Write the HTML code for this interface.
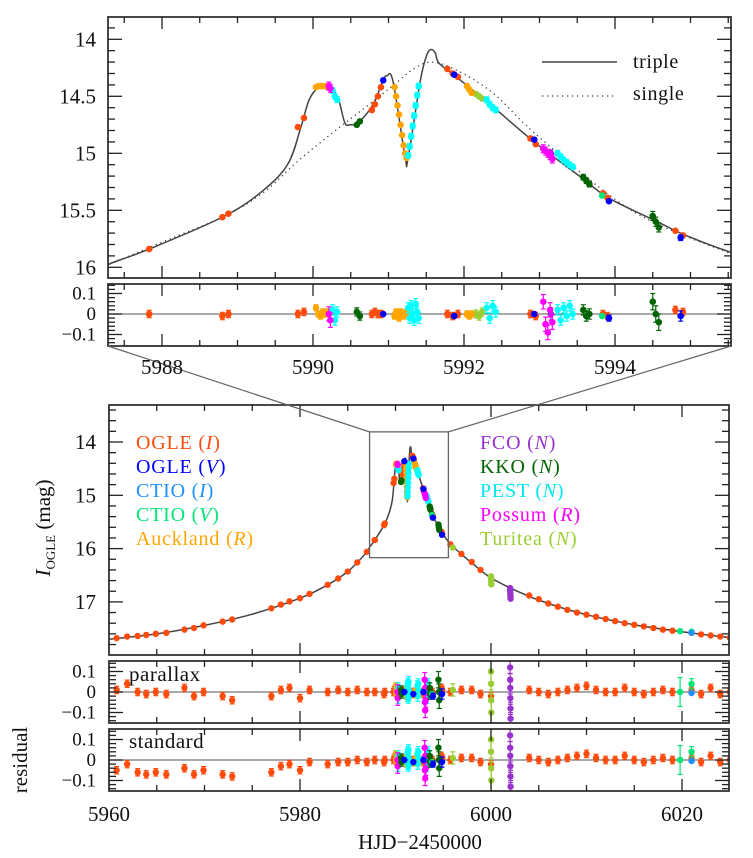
<!DOCTYPE html>
<html><head><meta charset="utf-8">
<style>
html,body{margin:0;padding:0;background:#fff;}
svg{display:block;font-family:"Liberation Serif",serif;}
</style></head>
<body>
<svg id="chart" width="753" height="858" viewBox="0 0 753 858" xmlns="http://www.w3.org/2000/svg"></svg>
<script>
// ---------- model curves ----------
const tripleT = [5960,5965,5970,5975,5980,5983,5985,5986,5987,5987.30,5987.83,5988.83,5989.35,5989.67,5989.84,5989.95,5990.08,5990.22,5990.33,5990.42,5990.49,5990.60,5990.79,5990.93,5990.98,5991.06,5991.22,5991.26,5991.42,5991.50,5991.56,5991.62,5991.67,5991.90,5992.38,5992.93,5993.59,5993.91,5994.56,5994.94,5995.54,5996,5997,5998,6000,6003,6006,6010,6015,6020,6025];
const tripleM = [17.70,17.60,17.44,17.23,16.93,16.67,16.43,16.26,16.06,15.97,15.84,15.55,15.32,15.09,14.77,14.53,14.42,14.42,14.51,14.73,14.75,14.73,14.58,14.36,14.32,14.37,15.03,15.04,14.37,14.15,14.09,14.12,14.21,14.33,14.59,14.90,15.23,15.39,15.60,15.72,15.87,15.96,16.12,16.27,16.55,16.82,17.03,17.24,17.43,17.56,17.67];
const singleT = [5987.0,5988.0,5988.83,5989.35,5989.78,5990.22,5990.65,5991.09,5991.31,5991.56,5991.90,5992.38,5992.93,5993.91,5994.56,5995.54,5996.0];
const singleM = [16.06,15.78,15.55,15.34,15.08,14.84,14.62,14.39,14.27,14.20,14.27,14.47,14.82,15.36,15.62,15.88,15.97];

// ---------- data ----------
const ogleIT = [5960.8,5961.9,5963.0,5963.9,5964.9,5966.0,5967.9,5968.9,5969.9,5971.9,5972.9,5977.0,5978.0,5978.9,5980.0,5981.0,5982.9,5984.0,5985.0,5986.0,5987.0,
 5987.83,5988.80,5988.88,5989.80,5989.88,5990.78,5990.82,5990.86,5990.90,5991.78,5991.85,5991.92,5992.88,5992.95,5993.84,5993.90,5994.80,5994.90,
 5995.75,5996.9,5997.98,5998.9,6000.0,6004,6005,6006,6007,6008,6009,6010,6011,6012,6013,6014,6015,6016,6017,6018,6019,6021,6022,6023,6024,6025];
const ogleIM = [17.68,17.65,17.64,17.62,17.60,17.58,17.52,17.49,17.44,17.37,17.33,17.12,17.05,16.99,16.93,16.85,16.68,16.56,16.43,16.26,16.06,
 15.84,15.56,15.53,14.77,14.69,14.62,14.57,14.50,14.42,14.26,14.30,14.33,14.87,14.92,15.35,15.39,15.68,15.72,
 15.92,16.10,16.25,16.40,16.55,16.88,16.95,17.03,17.09,17.15,17.20,17.24,17.28,17.32,17.36,17.40,17.43,17.46,17.49,17.52,17.54,17.58,17.61,17.63,17.65,17.67];
const ogleIResPar = [0.01,0.04,0.00,-0.01,0.00,-0.01,0.02,-0.02,0.00,-0.02,-0.04,-0.02,0.01,0.02,-0.03,0.01,0.00,0.01,0.00,0.01,0.00,
 0.00,-0.01,0.00,0.00,0.01,0.00,0.01,0.00,0.00,0.00,-0.01,0.00,0.00,-0.01,0.00,-0.01,0.02,0.01,
 0.00,0.01,0.01,-0.01,-0.02,0.01,0.00,-0.01,0.00,0.01,0.02,0.03,0.01,0.00,0.00,0.02,0.00,-0.01,0.00,0.01,0.00,0.01,-0.01,0.02,-0.01,0.00];
const ogleIResStd = [-0.05,-0.02,-0.06,-0.07,-0.06,-0.07,-0.04,-0.07,-0.05,-0.07,-0.08,-0.06,-0.03,-0.02,-0.05,-0.01,-0.02,-0.01,-0.01,0.00,-0.01,
 0.00,-0.01,0.00,0.00,0.01,0.00,0.01,0.00,0.00,0.00,-0.01,0.00,0.00,-0.01,0.00,-0.01,0.02,0.01,
 0.00,0.01,0.01,-0.01,-0.02,0.01,0.00,-0.01,0.00,0.01,0.02,0.03,0.01,0.00,0.00,0.02,0.00,-0.01,0.00,0.01,0.00,0.01,-0.01,0.02,-0.01,0.00];
const ogleIErr = [0.018];

const ogleVT = [5990.93,5991.87,5992.93,5993.92,5994.87];
const ogleVM = [14.36,14.31,14.88,15.42,15.74];
const ogleVR = [0.00,-0.01,0.00,-0.02,-0.01];
const ogleVErr = [0.01,0.01,0.01,0.015,0.025];

const ctioIT = [6021.0];
const ctioIM = [17.58];
const ctioIR = [-0.005];
const ctioIErr = [0.01];

const ctioVT = [5993.83,6019.8,6021.0];
const ctioVM = [15.37,17.55,17.56];
const ctioVR = [-0.01,0.00,0.04];
const ctioVErr = [0.01,0.07,0.025];

const aucklandT = [5990.04,5990.07,5990.10,5990.13,5990.16,5990.19,5991.08,5991.10,5991.12,5991.14,5991.16,5991.18,5991.20,5991.22,5991.24,5992.04,5992.07,5992.10];
const aucklandM = [14.42,14.41,14.41,14.41,14.41,14.42,14.42,14.50,14.58,14.66,14.75,14.84,14.93,15.00,15.04,14.41,14.44,14.47];
const aucklandR = [0.03,0.00,-0.01,0.01,0.00,0.01,-0.01,0.01,0.00,-0.02,0.01,0.00,-0.01,0.00,0.01,0.00,-0.01,0.00];
const aucklandErr = [0.015];

const fcoT = [5993.15,6002.0,6002.01,6002.02,6002.03,6002.04,6002.05];
const fcoM = [15.00,16.74,16.78,16.82,16.86,16.90,16.94];
const fcoR = [0.00,0.12,0.06,0.02,-0.03,-0.08,-0.13];
const fcoErr = [0.03,0.03,0.03,0.03,0.03,0.03,0.03];

const kkoT = [5990.58,5990.62,5993.58,5993.62,5993.66,5994.50,5994.54,5994.58];
const kkoM = [14.75,14.72,15.21,15.24,15.27,15.55,15.60,15.65];
const kkoR = [0.01,-0.01,0.02,-0.01,0.00,0.06,0.00,-0.04];
const kkoErr = [0.02,0.02,0.025,0.025,0.025,0.04,0.04,0.04];

const pestT = [5990.26,5990.29,5990.32,5991.26,5991.28,5991.30,5991.32,5991.34,5991.36,5991.38,5991.40,5992.30,5992.34,5992.38,5992.42,5993.24,5993.28,5993.32,5993.36,5993.40,5993.44];
const pestM = [14.45,14.50,14.53,15.02,14.94,14.85,14.76,14.67,14.58,14.49,14.41,14.53,14.57,14.60,14.62,15.00,15.03,15.06,15.08,15.10,15.12];
const pestR = [0.02,-0.03,0.01,0.03,-0.02,0.04,0.00,-0.03,0.05,0.01,-0.02,0.03,-0.02,0.04,0.01,0.02,-0.03,0.03,-0.01,0.04,0.00];
const pestErr = [0.025];

const possumT = [5990.21,5990.23,5993.05,5993.08,5993.11,5993.14,5993.17];
const possumM = [14.41,14.43,14.96,14.98,15.00,15.02,15.05];
const possumR = [0.00,-0.03,0.06,-0.05,-0.09,0.02,-0.04];
const possumErr = [0.035];

const turiteaT = [5992.16,5992.20,5992.24,5996.0,6000.0,6000.01,6000.02,6000.03];
const turiteaM = [14.48,14.50,14.52,15.98,16.52,16.57,16.62,16.67];
const turiteaR = [0.00,-0.01,0.01,0.01,0.10,0.04,-0.04,-0.10];
const turiteaErr = [0.02,0.02,0.02,0.03,0.05,0.05,0.05,0.05];

// ticks
const topYTicks = ["14","14.5","15","15.5","16"];
const topXTicks = ["5988","5990","5992","5994"];
const botYTicks = ["14","15","16","17"];
const botXTicks = ["5960","5980","6000","6020"];
const resTicks = ["0.1","0","\u22120.1"];

// ---------- geometry ----------
const NS = "http://www.w3.org/2000/svg";
const svg = document.getElementById('chart');
function el(tag, attrs, parent){ const e=document.createElementNS(NS,tag); for(const k in attrs) e.setAttribute(k,attrs[k]); (parent||svg).appendChild(e); return e; }

const P = {
  top:{x0:108,x1:731,y0:17,y1:278, tx:t=>162+(t-5988)*75.5, vy:m=>39.3+(m-14)*114},
  topRes:{x0:108,x1:731,y0:284,y1:346, tx:t=>162+(t-5988)*75.5, vy:r=>314-r*205},
  bot:{x0:109,x1:729,y0:405,y1:655, tx:t=>109+(t-5960)*9.55, vy:m=>442+(m-14)*53.3},
  par:{x0:109,x1:729,y0:661,y1:723, tx:t=>109+(t-5960)*9.55, vy:r=>692-r*205},
  std:{x0:109,x1:729,y0:729,y1:791, tx:t=>109+(t-5960)*9.55, vy:r=>760-r*205}
};
const defs = el('defs',{});
for(const k in P){ const p=P[k]; const c=el('clipPath',{id:'clip-'+k},defs); el('rect',{x:p.x0,y:p.y0,width:p.x1-p.x0,height:p.y1-p.y0},c); }

function pathFrom(p, T, M){
  const pts=T.map((t,i)=>[p.tx(t),p.vy(M[i])]);
  let d='M'+pts[0][0].toFixed(1)+','+pts[0][1].toFixed(1);
  for(let i=0;i<pts.length-1;i++){
    const p0=pts[Math.max(0,i-1)],p1=pts[i],p2=pts[i+1],p3=pts[Math.min(pts.length-1,i+2)];
    const c1=[p1[0]+(p2[0]-p0[0])/6,p1[1]+(p2[1]-p0[1])/6];
    const c2=[p2[0]-(p3[0]-p1[0])/6,p2[1]-(p3[1]-p1[1])/6];
    d+=' C'+c1[0].toFixed(1)+','+c1[1].toFixed(1)+' '+c2[0].toFixed(1)+','+c2[1].toFixed(1)+' '+p2[0].toFixed(1)+','+p2[1].toFixed(1);
  }
  return d;
}

// model lines
const gTopModel = el('g',{'clip-path':'url(#clip-top)'});


const sLine = el('path',{d:pathFrom(P.top,singleT,singleM),fill:'none',stroke:'#444','stroke-width':1.3,'stroke-dasharray':'1.3,3.7'},gTopModel);


const tLine = el('path',{d:pathFrom(P.top,tripleT,tripleM),fill:'none',stroke:'#444','stroke-width':1.5},gTopModel);


const gBotModel = el('g',{'clip-path':'url(#clip-bot)'});
const bLine = el('path',{d:pathFrom(P.bot,tripleT,tripleM),fill:'none',stroke:'#444','stroke-width':1.5},gBotModel);



// zero lines
['topRes','par','std'].forEach(k=>{ const p=P[k]; const z=el('line',{x1:p.x0,x2:p.x1,y1:p.vy(0),y2:p.vy(0),stroke:'#777','stroke-width':1.3});
  
   });

// datasets
const sets = [
 {n:'ogle-i',c:'#ff4a0a',T:ogleIT,M:ogleIM,R:ogleIResPar,RS:ogleIResStd,E:ogleIErr},
 {n:'turitea',c:'#9acd32',T:turiteaT,M:turiteaM,R:turiteaR,E:turiteaErr},
 {n:'fco',c:'#9932cc',T:fcoT,M:fcoM,R:fcoR,E:fcoErr},
 {n:'auckland',c:'#ffa500',T:aucklandT,M:aucklandM,R:aucklandR,E:aucklandErr},
 {n:'pest',c:'#00ffff',T:pestT,M:pestM,R:pestR,E:pestErr},
 {n:'possum',c:'#ff00ff',T:possumT,M:possumM,R:possumR,E:possumErr},
 {n:'kko',c:'#006400',T:kkoT,M:kkoM,R:kkoR,E:kkoErr},
 {n:'ctio-v',c:'#00e676',T:ctioVT,M:ctioVM,R:ctioVR,E:ctioVErr},
 {n:'ctio-i',c:'#1e90ff',T:ctioIT,M:ctioIM,R:ctioIR,E:ctioIErr},
 {n:'ogle-v',c:'#0000ff',T:ogleVT,M:ogleVM,R:ogleVR,E:ogleVErr}
];
function drawPoint(g,p,t,v,err,col,rad){
  const x=p.tx(t), y=p.vy(v);
  const ey=Math.abs(p.vy(v+err)-y);
  if(ey>2.5){
    el('line',{x1:x,x2:x,y1:y-ey,y2:y+ey,stroke:col,'stroke-width':1.2},g);
    el('line',{x1:x-2.5,x2:x+2.5,y1:y-ey,y2:y-ey,stroke:col,'stroke-width':1.2},g);
    el('line',{x1:x-2.5,x2:x+2.5,y1:y+ey,y2:y+ey,stroke:col,'stroke-width':1.2},g);
  }
  const c=el('circle',{cx:x,cy:y,r:rad,fill:col},g);
  
  
}
sets.forEach(s=>{
  ['top','topRes','bot','par','std'].forEach(k=>{
    const p=P[k];
    const g=el('g',{'clip-path':'url(#clip-'+k+')'});
    
    
    s.T.forEach((t,i)=>{
      let v, e=s.E[Math.min(i,s.E.length-1)];
      if(k==='top'||k==='bot'){ v=s.M[i]; }
      else if(k==='std' && s.RS){ v=s.RS[i]; }
      else v=s.R[i];
      if(k==='top'&&s.n==='ogle-i') e=0.008;
      if(k==='bot') e=e*0.5;
      drawPoint(g,p,t,v,e,s.c,(k==='top'||k==='topRes')?3.3:3.2);
    });
  });
});

// frames and ticks
function frame(k,name,xMinor,xMajorEvery,xStart,xEnd,yMinor,yMajorEvery,yStart,yEnd){
  const p=P[k];
  const g=el('g',{});
  
  
  el('rect',{x:p.x0,y:p.y0,width:p.x1-p.x0,height:p.y1-p.y0,fill:'none',stroke:'#333','stroke-width':1.8},g);
  for(let t=xStart;t<=xEnd+1e-9;t+=xMinor){
    const x=p.tx(t); if(x<p.x0+1||x>p.x1-1) continue;
    const major=Math.abs(Math.round(t/xMajorEvery)*xMajorEvery-t)<1e-6;
    const L=major?12:6;
    el('line',{x1:x,x2:x,y1:p.y1,y2:p.y1-L,stroke:'#222','stroke-width':1.3},g);
    el('line',{x1:x,x2:x,y1:p.y0,y2:p.y0+L,stroke:'#222','stroke-width':1.3},g);
  }
  for(let v=yStart;v<=yEnd+1e-9;v+=yMinor){
    const y=p.vy(v); if(y<p.y0+1||y>p.y1-1) continue;
    const major=Math.abs(Math.round(v/yMajorEvery)*yMajorEvery-v)<1e-6;
    const L=major?14:7;
    el('line',{x1:p.x0,x2:p.x0+L,y1:y,y2:y,stroke:'#222','stroke-width':1.3},g);
    el('line',{x1:p.x1,x2:p.x1-L,y1:y,y2:y,stroke:'#222','stroke-width':1.3},g);
  }
}
frame('top','top-panel-frame',0.5,2,5987,5996,0.1,0.5,13.8,16.2);
frame('topRes','top-residual-frame',0.5,2,5987,5996,0.02,0.1,-0.16,0.16);
frame('bot','bottom-panel-frame',5,20,5960,6025,0.2,1,13.2,18);
frame('par','parallax-residual-frame',5,20,5960,6025,0.02,0.1,-0.16,0.16);
frame('std','standard-residual-frame',5,20,5960,6025,0.02,0.1,-0.16,0.16);

// zoom box and connectors
const zb=el('rect',{x:P.bot.tx(5987.285),y:P.bot.vy(13.81),width:P.bot.tx(5995.54)-P.bot.tx(5987.285),height:P.bot.vy(16.17)-P.bot.vy(13.81),fill:'none',stroke:'#666','stroke-width':1.3});


const c1=el('line',{x1:108,y1:346,x2:P.bot.tx(5987.285),y2:P.bot.vy(13.81),stroke:'#666','stroke-width':1.2});


const c2=el('line',{x1:731,y1:346,x2:P.bot.tx(5995.54),y2:P.bot.vy(13.81),stroke:'#666','stroke-width':1.2});



// tick labels
function txt(x,y,s,attrs,name){ const e=el('text',Object.assign({x:x,y:y,'font-size':20,fill:'#111'},attrs||{})); e.textContent=s;
  
   return e; }
topYTicks.forEach(s=>txt(96,P.top.vy(parseFloat(s))+7,s,{'text-anchor':'end','font-size':21},'top-y-tick-label'));
topXTicks.forEach(s=>txt(P.top.tx(parseFloat(s)),374,s,{'text-anchor':'middle','font-size':21},'top-x-tick-label'));
botYTicks.forEach(s=>txt(96,P.bot.vy(parseFloat(s))+7,s,{'text-anchor':'end','font-size':21},'bottom-y-tick-label'));
botXTicks.forEach(s=>txt(P.bot.tx(parseFloat(s)),821,s,{'text-anchor':'middle','font-size':21},'bottom-x-tick-label'));
['topRes','par','std'].forEach(k=>{
  const vals=[0.1,0,-0.1];
  resTicks.forEach((s,i)=>txt(96,P[k].vy(vals[i])+6,s,{'text-anchor':'end','font-size':19},'residual-tick-label'));
});
txt(420,849,'HJD\u22122450000',{'text-anchor':'middle','font-size':21},'x-axis-title');
txt(0,0,'residual',{'text-anchor':'middle','font-size':21,transform:'translate(27,760) rotate(-90)'},'residual-axis-title');
const yt=txt(0,0,'',{'text-anchor':'middle','font-size':21,transform:'translate(50,528) rotate(-90)'},'y-axis-title');
yt.innerHTML='<tspan font-style="italic">I</tspan><tspan font-size="13" dy="5">OGLE</tspan><tspan dy="-5"> (mag)</tspan>';
txt(129,681,'parallax',{'font-size':21,'letter-spacing':'0.5'},'parallax-panel-label');
txt(129,748,'standard',{'font-size':21,'letter-spacing':'0.5'},'standard-panel-label');

// top legend
const lg=el('g',{});


el('line',{x1:542,x2:617,y1:62,y2:62,stroke:'#444','stroke-width':1.5},lg);
el('line',{x1:542,x2:617,y1:96,y2:96,stroke:'#444','stroke-width':1.3,'stroke-dasharray':'1.3,3.7'},lg);
txt(633,68,'triple',{'font-size':20,'letter-spacing':'0.6'},'legend-triple');
txt(633,100,'single',{'font-size':20,'letter-spacing':'0.6'},'legend-single');

// dataset legend
const leg=[['OGLE','I','#ff4a0a',136,449],['OGLE','V','#0000ff',136,473],['CTIO','I','#1e90ff',136,497],['CTIO','V','#00e676',136,521],['Auckland','R','#ffa500',136,545],
 ['FCO','N','#9932cc',480,449],['KKO','N','#006400',480,473],['PEST','N','#00e8f0',480,497],['Possum','R','#ff00ff',480,521],['Turitea','N','#9acd32',480,545]];
leg.forEach(a=>{
  const e=txt(a[3],a[4],'',{'font-size':20,fill:a[2],'letter-spacing':'0.8'},'legend-entry-'+a[0].toLowerCase()+'-'+a[1].toLowerCase());
  e.innerHTML=a[0]+' (<tspan font-style="italic">'+a[1]+'</tspan>)';
});
</script>
</body></html>
